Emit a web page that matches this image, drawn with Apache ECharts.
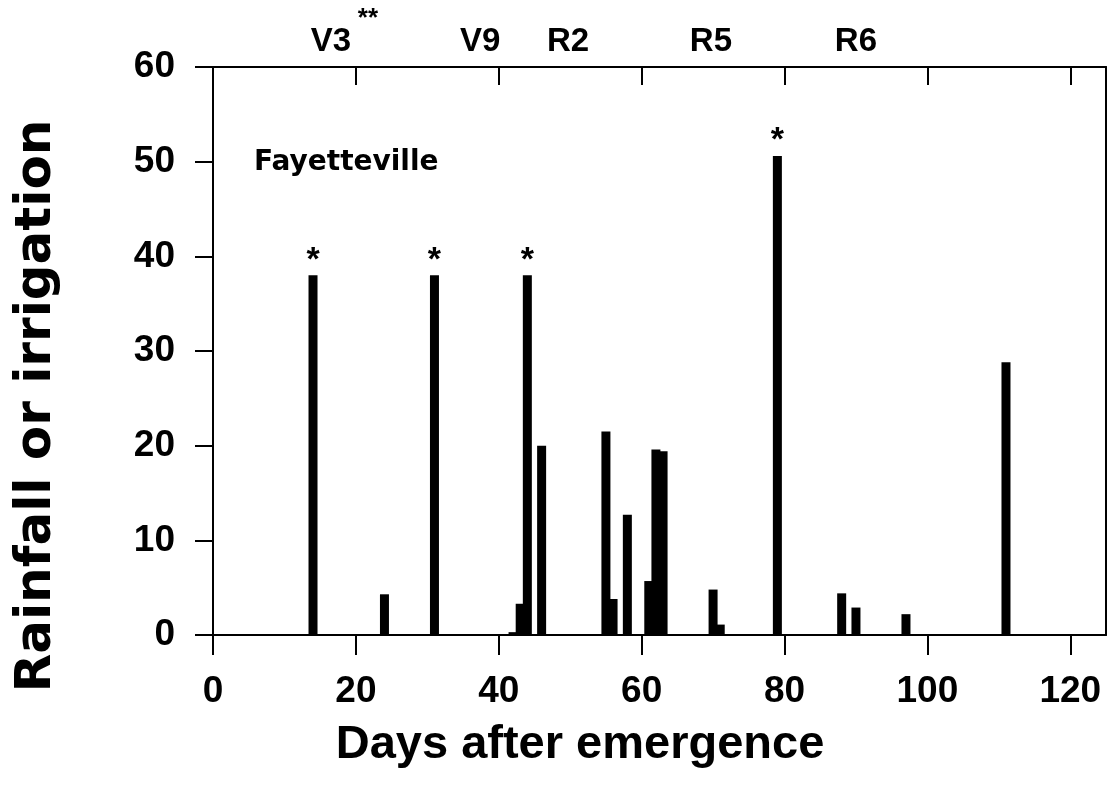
<!DOCTYPE html>
<html><head><meta charset="utf-8">
<script src="https://cdn.jsdelivr.net/npm/echarts@6/dist/echarts.min.js"></script>
<style>html,body{margin:0;padding:0;background:#fff}#c{width:1109px;height:794px}</style>
</head><body><div id="c"></div>
<script>
const days = [14,24,31,42,43,44,46,55,56,58,61,62,63,70,71,79,88,90,97,111];
const rainfall = [38,4.3,38,0.3,3.3,38,20,21.5,3.8,12.7,5.7,19.6,19.4,4.8,1.1,50.6,4.4,2.9,2.2,28.8];
const starredDays = [14,31,44,79];
const xTicks = [0,20,40,60,80,100,120];
const stageLabels = ['V3','V9','R2','R5','R6'];
const stageDays = [16.5,37.4,49.7,69.7,90];
const siteName = 'Fayetteville';
const xTitle = 'Days after emergence';
const yTitle = 'Rainfall or irrigation';

const FONT = '"Liberation Sans", Arial, sans-serif';
const WIDE = '"DejaVu Sans", sans-serif';
const chart = echarts.init(document.getElementById('c'));
const data = days.map((d, i) => ({
  value: [d, rainfall[i]],
  label: { show: starredDays.includes(d) }
}));
chart.setOption({
  animation: false,
  backgroundColor: '#fff',
  grid: { left: 213, right: 3, top: 67, bottom: 159 },
  xAxis: [{
    type: 'value', min: 0, max: 125, interval: 20, position: 'bottom',
    axisLine: { onZero: false, lineStyle: { color: '#000', width: 2 } },
    axisTick: { show: true, inside: false, length: 20, customValues: xTicks, lineStyle: { color: '#000', width: 2 } },
    axisLabel: { customValues: xTicks, margin: 38, color: '#000', fontSize: 37, fontWeight: 'bold', fontFamily: FONT },
    splitLine: { show: false }
  }, {
    type: 'value', min: 0, max: 125, interval: 20, position: 'top',
    axisLine: { onZero: false, lineStyle: { color: '#000', width: 2 } },
    axisTick: { show: true, inside: true, length: 18, customValues: xTicks, lineStyle: { color: '#000', width: 2 } },
    axisLabel: { show: false },
    splitLine: { show: false }
  }],
  yAxis: [{
    type: 'value', min: 0, max: 60, interval: 10, position: 'left',
    axisLine: { onZero: false, lineStyle: { color: '#000', width: 2 } },
    axisTick: { show: true, inside: false, length: 18, lineStyle: { color: '#000', width: 2 } },
    axisLabel: { margin: 38, color: '#000', fontSize: 37, fontWeight: 'bold', fontFamily: FONT },
    splitLine: { show: false }
  }, {
    type: 'value', min: 0, max: 60, interval: 10, position: 'right',
    axisLine: { show: true, onZero: false, lineStyle: { color: '#000', width: 2 } },
    axisTick: { show: false }, axisLabel: { show: false }, splitLine: { show: false }
  }],
  series: [{
    type: 'bar', xAxisIndex: 0, yAxisIndex: 0,
    barWidth: 9, barGap: '-100%',
    itemStyle: { color: '#000' },
    label: { position: 'top', distance: -2, formatter: '*', color: '#000', fontSize: 34, fontWeight: 'bold', fontFamily: FONT },
    data: data
  }]
});

const texts = [];
stageLabels.forEach((s, i) => {
  const x = chart.convertToPixel({ xAxisIndex: 0 }, stageDays[i]);
  texts.push({ type: 'text', x: x, y: 42, style: { text: s, fill: '#000', font: 'bold 33px ' + FONT, textAlign: 'center', textVerticalAlign: 'middle' } });
});
texts.push({ type: 'text', x: chart.convertToPixel({ xAxisIndex: 0 }, stageDays[0]) + 37, y: 19, style: { text: '**', fill: '#000', font: 'bold 26px ' + FONT, textAlign: 'center', textVerticalAlign: 'middle' } });
texts.push({ type: 'text', x: 254, y: 163, style: { text: siteName, fill: '#000', font: 'bold 28px ' + WIDE, textAlign: 'left', textVerticalAlign: 'middle' } });
texts.push({ type: 'text', x: 580, y: 745, style: { text: xTitle, fill: '#000', font: 'bold 47px ' + FONT, textAlign: 'center', textVerticalAlign: 'middle' } });
texts.push({ type: 'text', x: 37, y: 406, rotation: Math.PI / 2, style: { text: yTitle, fill: '#000', font: 'bold 50px ' + WIDE, textAlign: 'center', textVerticalAlign: 'middle' } });
chart.setOption({ graphic: texts });
</script></body></html>
